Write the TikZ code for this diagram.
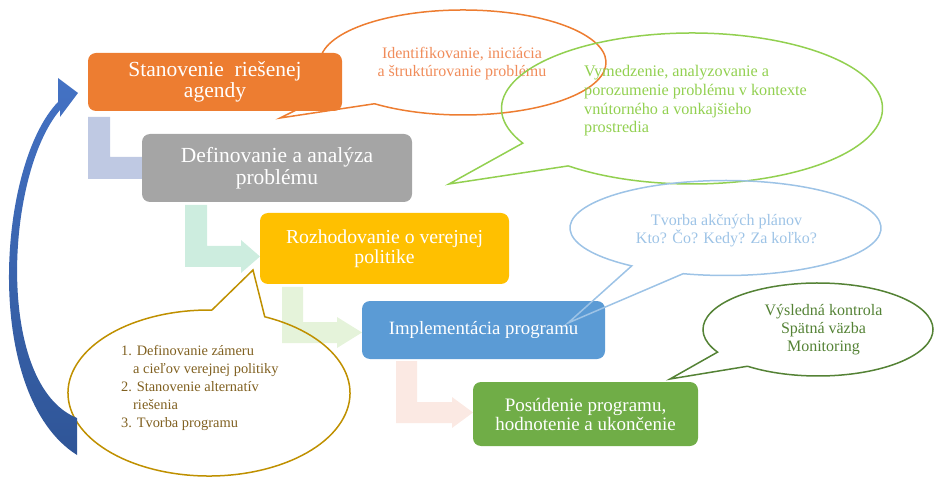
\documentclass[tikz,border=0pt]{standalone}
\usepackage{fontspec}
\setmainfont{Liberation Serif}
\usetikzlibrary{calc}
\definecolor{cOrange}{HTML}{ED7D31}
\definecolor{cGray}{HTML}{A5A5A5}
\definecolor{cYellow}{HTML}{FFC000}
\definecolor{cBlue}{HTML}{5B9BD5}
\definecolor{cGreen}{HTML}{70AD47}
\definecolor{eLav}{HTML}{BFC9E3}
\definecolor{eMint}{HTML}{CDEDDF}
\definecolor{eLgreen}{HTML}{E5F3DA}
\definecolor{ePink}{HTML}{FBE9E3}
\definecolor{tOrange}{HTML}{F08C5A}
\definecolor{lGreen}{HTML}{92D050}
\definecolor{lBlue}{HTML}{9DC3E6}
\definecolor{dGreen}{HTML}{548235}
\definecolor{lGold}{HTML}{BF9000}
\definecolor{tGold}{HTML}{806020}
\definecolor{arrTop}{HTML}{4472C4}
\definecolor{arrBot}{HTML}{2F5597}
\tikzset{
  stepbox/.style={rounded corners=8pt, inner sep=0pt, text=white, align=center},
  callout/.style={line width=1.5pt, line join=miter},
  calltext/.style={inner sep=0pt, font=\fontsize{16}{18}\selectfont}
}
\begin{document}
\begin{tikzpicture}[x=1pt,y=-1pt]
\useasboundingbox (0,0) rectangle (934,478);
% elbow arrows
\fill[eLav] (88,117) -- (110,117) -- (110,157) -- (142,157) -- (142,179) -- (88,179) -- cycle;
\fill[eMint] (185,205) -- (207,205) -- (207,246) -- (241,246) -- (241,240) -- (260,256.5) -- (241,273) -- (241,267) -- (185,267) -- cycle;
\fill[eLgreen] (282,287) -- (303,287) -- (303,322) -- (337,322) -- (337,317) -- (362,332.5) -- (337,348) -- (337,343) -- (282,343) -- cycle;
\fill[ePink] (396,361) -- (417,361) -- (417,402) -- (452,402) -- (452,397) -- (473,412.5) -- (452,428) -- (452,423) -- (396,423) -- cycle;
% orange callout (behind box 1)
\coordinate (oc) at (463,62.5);
\coordinate (otip) at (280,118);
\draw[callout, cOrange] ($(oc)+(128.2:143 and 52.5)$) -- (otip) -- ($(oc)+(150:143 and 52.5)$) arc[start angle=150, end angle=488.2, x radius=143, y radius=52.5];
\node[calltext, text=tOrange, align=center] (otext) at (462,64) {Identifikovanie, iniciácia\\a štruktúrovanie problému};
% boxes
\node[stepbox, fill=cOrange, minimum width=254pt, minimum height=58pt, font=\fontsize{21.5}{21}\selectfont] (b1) at (215,82) {Stanovenie\ \ riešenej\\agendy};
\node[stepbox, fill=cGray, minimum width=270pt, minimum height=68pt, font=\fontsize{21.5}{22}\selectfont] (b2) at (277,168) {Definovanie a analýza\\problému};
\node[stepbox, fill=cYellow, minimum width=249pt, minimum height=71pt, font=\fontsize{19.7}{20}\selectfont] (b3) at (384.5,248.5) {Rozhodovanie o verejnej\\politike};
\node[stepbox, fill=cBlue, minimum width=243pt, minimum height=58pt, font=\fontsize{18.8}{19}\selectfont] (b4) at (483.5,330) {Implementácia programu};
\node[stepbox, fill=cGreen, minimum width=225pt, minimum height=64pt, font=\fontsize{19}{19}\selectfont] (b5) at (585.5,414) {Posúdenie programu,\\hodnotenie a ukončenie};
% green callout
\coordinate (gc) at (692,108.5);
\coordinate (gtip) at (449,184);
\draw[callout, lGreen] ($(gc)+(130.5:190.5 and 75.5)$) -- (gtip) -- ($(gc)+(152.7:190.5 and 75.5)$) arc[start angle=152.7, end angle=490.5, x radius=190.5, y radius=75.5];
\node[calltext, text=lGreen, align=left, anchor=west, font=\fontsize{16.2}{18.7}\selectfont] (gtext) at (584,101) {Vymedzenie, analyzovanie a\\porozumenie problému v kontexte\\vnútorného a vonkajšieho\\prostredia};
% blue callout
\coordinate (bc) at (725.5,228);
\coordinate (btip) at (568,323);
\draw[callout, lBlue] ($(bc)+(105.8:155.5 and 47.5)$) -- (btip) -- ($(bc)+(127.1:155.5 and 47.5)$) arc[start angle=127.1, end angle=465.8, x radius=155.5, y radius=47.5];
\node[calltext, text=lBlue, align=center] (btext) at (726.5,231) {Tvorba akčných plánov\\Kto? Čo? Kedy? Za koľko?};
% dark green callout
\coordinate (dc) at (818,329.5);
\coordinate (dtip) at (670,379);
\draw[callout, dGreen] ($(dc)+(127.8:115 and 46.5)$) -- (dtip) -- ($(dc)+(150.9:115 and 46.5)$) arc[start angle=150.9, end angle=487.8, x radius=115, y radius=46.5];
\node[calltext, text=dGreen, align=center] (dtext) at (823.5,330) {Výsledná kontrola\\Spätná väzba\\Monitoring};
% gold callout
\coordinate (yc) at (209,393);
\coordinate (ytip) at (253,270);
\draw[callout, lGold] ($(yc)+(271.2:141 and 83)$) -- (ytip) -- ($(yc)+(293.3:141 and 83)$) arc[start angle=293.3, end angle=631.2, x radius=141, y radius=83];
\node[calltext, text=tGold, align=left, anchor=west, font=\fontsize{14.4}{18}\selectfont] (ytext) at (121,388) {1. Definovanie zámeru\\\hspace*{12pt}a cieľov verejnej politiky\\2. Stanovenie alternatív\\\hspace*{12pt}riešenia\\3. Tvorba programu};
% blue curved return arrow
\shade[top color=arrTop, bottom color=arrBot] (58,78) -- (78,93) -- (60,117) -- (60,110) .. controls (5,175) and (-5,385) .. (77,418) -- (77,455) .. controls (-18,395) and (-3,165) .. (58,102) -- cycle;
\end{tikzpicture}
\end{document}
